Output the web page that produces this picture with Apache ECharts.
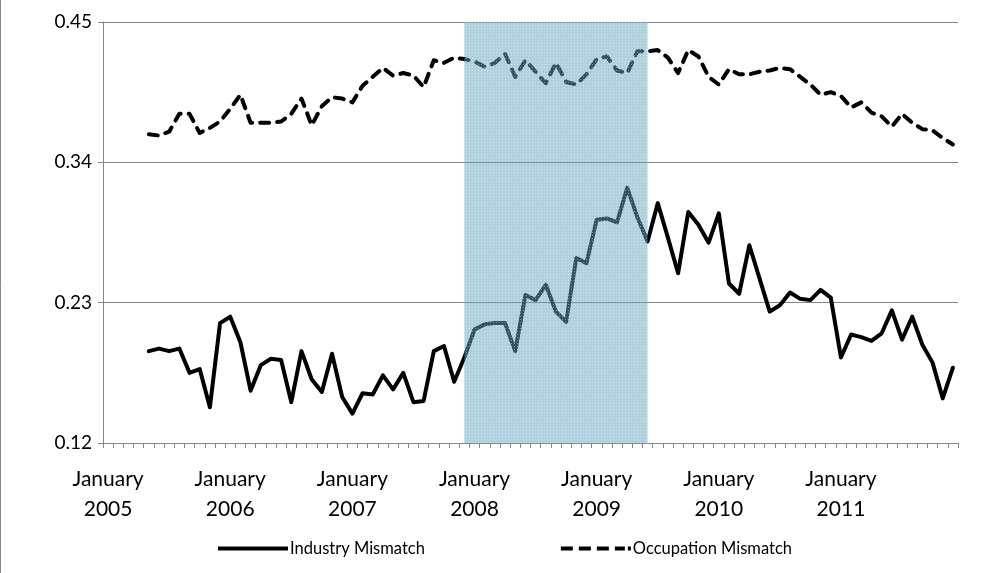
<!DOCTYPE html>
<html>
<head>
<meta charset="utf-8">
<script src="https://cdn.jsdelivr.net/npm/echarts@6/dist/echarts.min.js"></script>
<style>
html,body{margin:0;padding:0;background:#fff;}
#chart{width:1008px;height:573px;}
</style>
</head>
<body>
<div id="chart"></div>
<script>
// ---------- data ----------
const monthNames = ['Jan','Feb','Mar','Apr','May','Jun','Jul','Aug','Sep','Oct','Nov','Dec'];
const years = [2005, 2006, 2007, 2008, 2009, 2010, 2011];
const categories = [];
years.forEach(y => monthNames.forEach(m => categories.push(m + ' ' + y)));

const firstDataMonth = 'May 2005';

const industryMismatch = [
  0.192, 0.194, 0.192, 0.194, 0.175, 0.178, 0.148, 0.214, 0.219, 0.199,
  0.161, 0.181, 0.186, 0.185, 0.152, 0.192, 0.170, 0.160, 0.190, 0.156,
  0.143, 0.159, 0.158, 0.173, 0.162, 0.175, 0.152, 0.153, 0.192, 0.196,
  0.168, 0.187, 0.209, 0.213, 0.214, 0.214, 0.192, 0.236, 0.232, 0.244,
  0.223, 0.215, 0.265, 0.261, 0.295, 0.296, 0.293, 0.320, 0.297, 0.278,
  0.308, 0.281, 0.253, 0.301, 0.291, 0.277, 0.300, 0.245, 0.237, 0.275,
  0.249, 0.223, 0.228, 0.238, 0.233, 0.232, 0.240, 0.234, 0.187, 0.205,
  0.203, 0.200, 0.206, 0.224, 0.201, 0.219, 0.197, 0.183, 0.155, 0.179
];

const occupationMismatch = [
  0.362, 0.361, 0.364, 0.378, 0.378, 0.363, 0.367, 0.372, 0.382, 0.393,
  0.371, 0.371, 0.371, 0.372, 0.378, 0.390, 0.369, 0.384, 0.391, 0.390,
  0.387, 0.400, 0.407, 0.414, 0.408, 0.410, 0.408, 0.399, 0.420, 0.418,
  0.422, 0.421, 0.419, 0.415, 0.418, 0.425, 0.407, 0.420, 0.411, 0.402,
  0.418, 0.403, 0.401, 0.409, 0.421, 0.423, 0.412, 0.410, 0.427, 0.427,
  0.428, 0.422, 0.410, 0.428, 0.423, 0.407, 0.401, 0.413, 0.409, 0.409,
  0.411, 0.412, 0.414, 0.413, 0.407, 0.401, 0.393, 0.395, 0.392, 0.383,
  0.387, 0.379, 0.376, 0.368, 0.378, 0.371, 0.366, 0.365, 0.359, 0.354
];

const yTickValues = [0.12, 0.23, 0.34, 0.45];
const recessionPeriod = ['Dec 2007', 'Jun 2009'];
const seriesNames = ['Industry Mismatch', 'Occupation Mismatch'];

// ---------- build ----------
const offset = categories.indexOf(firstDataMonth);
const toPairs = arr => arr.map((v, i) => [categories[offset + i], v]);

// dotted fill pattern for the recession band
const pat = document.createElement('canvas');
pat.width = 3; pat.height = 3;
const pctx = pat.getContext('2d');
pctx.fillStyle = 'rgba(95,165,190,0.50)';
pctx.fillRect(0, 0, 3, 3);
pctx.fillStyle = 'rgba(255,255,255,0.35)';
pctx.fillRect(1, 1, 1, 1);

const FONT = 'Lato';
const GRAY = '#868686';
const SOLID_ICON = 'path://M0,0H70V4H0Z';
const DASH_ICON = 'path://M0,0H12V4H0Z M18,0H30V4H18Z M36,0H48V4H36Z M54,0H64V4H54Z M67,0H70V4H67Z';

const chart = echarts.init(document.getElementById('chart'), null, {renderer: 'canvas'});
chart.setOption({
  animation: false,
  backgroundColor: '#ffffff',
  textStyle: {fontFamily: FONT},
  grid: {left: 103, right: 50, top: 22, bottom: 130, containLabel: false},
  graphic: [{
    type: 'line', silent: true,
    shape: {x1: 0.5, y1: 0, x2: 0.5, y2: 573},
    style: {stroke: GRAY, lineWidth: 1}
  }],
  xAxis: {
    type: 'category',
    data: categories,
    boundaryGap: true,
    axisLine: {show: true, lineStyle: {color: GRAY, width: 1}},
    axisTick: {show: true, interval: 0, length: 5, lineStyle: {color: GRAY, width: 1}},
    axisLabel: {
      interval: (idx) => idx % 12 === 0,
      formatter: (val) => 'January\n' + val.split(' ')[1],
      fontFamily: FONT, fontSize: 21, color: '#000', lineHeight: 30, margin: 21
    },
    splitLine: {show: false}
  },
  yAxis: {
    type: 'value',
    min: 0.12,
    max: 0.45,
    axisLine: {show: true, lineStyle: {color: GRAY, width: 1}},
    axisTick: {show: true, length: 5, lineStyle: {color: GRAY}, customValues: yTickValues},
    axisLabel: {
      customValues: yTickValues,
      formatter: (v) => v.toFixed(2),
      fontFamily: FONT, fontSize: 19, color: '#000', margin: 11
    },
    splitLine: {show: true, lineStyle: {color: GRAY, width: 1}}
  },
  legend: {
    data: [
      {name: seriesNames[0], icon: SOLID_ICON},
      {name: seriesNames[1], icon: DASH_ICON}
    ],
    bottom: 11,
    left: 213,
    itemWidth: 70,
    itemHeight: 4,
    itemGap: 136,
    textStyle: {fontFamily: FONT, fontSize: 16.5, color: '#000', padding: [0, 0, 0, -3]}
  },
  series: [
    {
      name: seriesNames[0],
      type: 'line',
      data: toPairs(industryMismatch),
      symbol: 'none',
      smooth: false,
      lineStyle: {color: '#000', width: 4, join: 'round', cap: 'round'},
      itemStyle: {color: '#000'},
      z: 2
    },
    {
      name: seriesNames[1],
      type: 'line',
      data: toPairs(occupationMismatch),
      symbol: 'none',
      smooth: false,
      lineStyle: {color: '#000', width: 4, type: [9, 8], cap: 'round', join: 'round'},
      itemStyle: {color: '#000'},
      z: 2
    },
    {
      name: 'recession',
      type: 'line',
      data: [],
      silent: true,
      markArea: {
        silent: true,
        z: 3,
        itemStyle: {color: {image: pat, repeat: 'repeat'}},
        data: [[{xAxis: recessionPeriod[0]}, {xAxis: recessionPeriod[1]}]]
      }
    }
  ]
});
</script>
</body>
</html>
